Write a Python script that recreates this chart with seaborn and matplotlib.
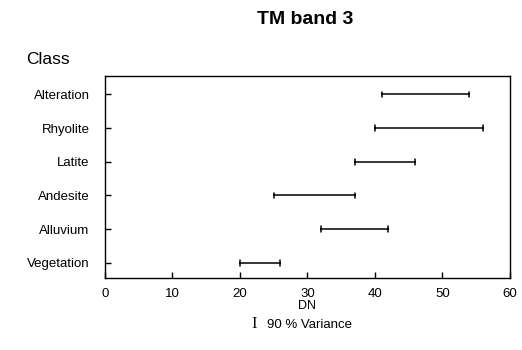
import matplotlib
matplotlib.use("Agg")
import matplotlib.pyplot as plt
import seaborn as sns
import pandas as pd

classes = ["Alteration", "Rhyolite", "Latite", "Andesite", "Alluvium", "Vegetation"]
low = [41, 40, 37, 25, 32, 20]
high = [54, 56, 46, 37, 42, 26]
xticks = [0, 10, 20, 30, 40, 50, 60]

df = pd.DataFrame({
    "Class": classes + classes,
    "DN": low + high,
})

sns.set_theme(style="white")
plt.rcParams["font.family"] = ["Liberation Sans", "DejaVu Sans"]
plt.rcParams["text.color"] = "black"
plt.rcParams["xtick.color"] = "black"
plt.rcParams["ytick.color"] = "black"
plt.rcParams["axes.labelcolor"] = "black"

fig = plt.figure(figsize=(5.22, 3.5), dpi=100)
ax = fig.add_axes([0.201, 0.206, 0.776, 0.577])

sns.pointplot(data=df, x="DN", y="Class", order=classes, orient="h",
              estimator="mean", errorbar=("pi", 100), capsize=0.17,
              linestyle="none", marker="", color="black",
              err_kws={"linewidth": 1.1}, ax=ax)

ax.set_xlim(0, 60)
ax.set_ylim(5.45, -0.55)
ax.set_xticks(xticks)
ax.set_xticklabels([str(t) for t in xticks], fontsize=9.5)
ax.tick_params(axis="y", labelsize=9.5, direction="in", length=4, width=1, left=True, pad=11)
ax.tick_params(axis="x", direction="in", length=4, width=1, bottom=True, pad=7)
ax.set_ylabel("")
ax.set_xlabel("DN", fontsize=9, labelpad=0.5)
for s in ax.spines.values():
    s.set_color("black")
    s.set_linewidth(1.0)

fig.text(0.585, 0.945, "TM band 3", ha="center", va="center", fontsize=14, fontweight="bold")
fig.text(0.05, 0.83, "Class", ha="left", va="center", fontsize=12.5)
fig.text(0.482, 0.075, "I", ha="left", va="center", fontsize=12, family="Liberation Serif")
fig.text(0.512, 0.072, "90 % Variance", ha="left", va="center", fontsize=9.5)

fig.savefig("out.png", dpi=100)
